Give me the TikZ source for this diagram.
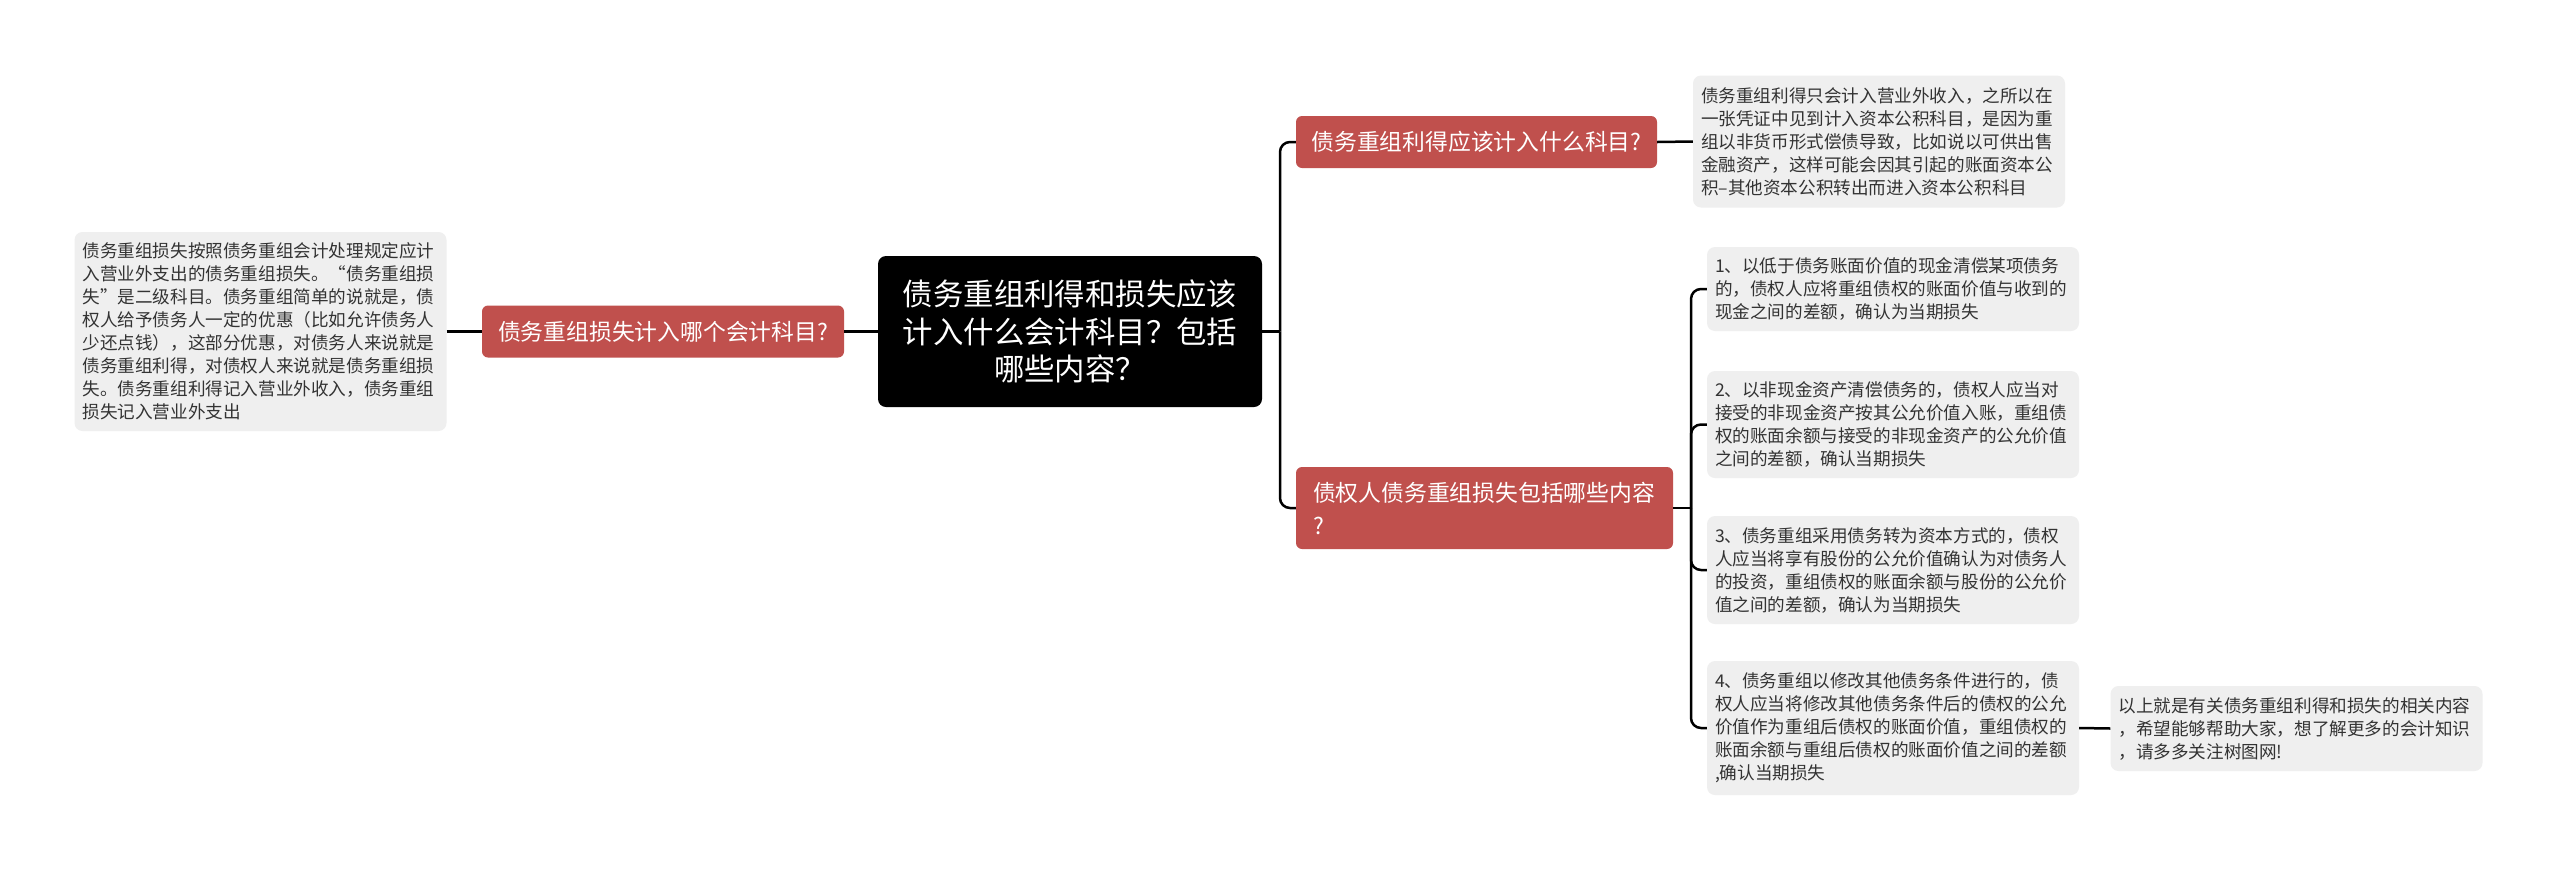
\documentclass[tikz,border=0pt]{standalone}
\usepackage{fontspec}
\setmainfont{Noto Sans CJK SC}
\definecolor{nodered}{RGB}{192,80,77}
\definecolor{notegray}{RGB}{239,239,239}
\definecolor{textgray}{RGB}{51,51,51}
\begin{document}
\begin{tikzpicture}[x=1pt,y=-1pt,
  conn/.style={line width=2.5pt, draw=black, rounded corners=10pt},
  mainbox/.style={fill=black, text=white, rounded corners=8pt, minimum width=384pt, minimum height=151pt, inner sep=0pt, font=\fontsize{30.4}{37.5}\selectfont, align=center},
  redbox/.style={fill=nodered, rounded corners=6pt, text=white, font=\fontsize{22.8}{33}\selectfont, inner xsep=14pt, inner ysep=0pt, minimum height=52pt, align=left},
  notebox/.style={fill=notegray, rounded corners=8pt, text=textgray, font=\fontsize{17.6}{23}\selectfont, text width=356pt, inner xsep=8pt, inner ysep=0pt, align=left}
]
\fill[white] (0,0) rectangle (2560,871);
\useasboundingbox (0,0) rectangle (2560,871);

\node[mainbox] (c) at (1070,331.5) {债务重组利得和损失应该\\计入什么会计科目？包括\\哪些内容？};

\node[redbox, minimum width=362pt] (l1) at (663,331.5) {债务重组损失计入哪个会计科目?};
\node[notebox, minimum height=199pt] (l2) at (260.5,331.5) {债务重组损失按照债务重组会计处理规定应计\\入营业外支出的债务重组损失。“债务重组损\\失”是二级科目。债务重组简单的说就是，债\\权人给予债务人一定的优惠（比如允许债务人\\少还点钱），这部分优惠，对债务人来说就是\\债务重组利得，对债权人来说就是债务重组损\\失。债务重组利得记入营业外收入，债务重组\\损失记入营业外支出};

\node[redbox, minimum width=361pt] (r1) at (1476.5,142) {债务重组利得应该计入什么科目?};
\node[notebox, minimum height=132pt] (r1n) at (1879,141.5) {债务重组利得只会计入营业外收入，之所以在\\一张凭证中见到计入资本公积科目，是因为重\\组以非货币形式偿债导致，比如说以可供出售\\金融资产，这样可能会因其引起的账面资本公\\积–其他资本公积转出而进入资本公积科目};

\node[redbox, text width=343pt, inner xsep=17pt, minimum height=82pt] (r2) at (1484.5,508) {债权人债务重组损失包括哪些内容\\?};

\node[notebox, minimum height=84pt] (i1) at (1893,289) {1、以低于债务账面价值的现金清偿某项债务\\的，债权人应将重组债权的账面价值与收到的\\现金之间的差额，确认为当期损失};
\node[notebox, minimum height=107pt] (i2) at (1893,424.5) {2、以非现金资产清偿债务的，债权人应当对\\接受的非现金资产按其公允价值入账，重组债\\权的账面余额与接受的非现金资产的公允价值\\之间的差额，确认当期损失};
\node[notebox, minimum height=108pt] (i3) at (1893,570) {3、债务重组采用债务转为资本方式的，债权\\人应当将享有股份的公允价值确认为对债务人\\的投资，重组债权的账面余额与股份的公允价\\值之间的差额，确认为当期损失};
\node[notebox, minimum height=134pt] (i4) at (1893,728) {4、债务重组以修改其他债务条件进行的，债\\权人应当将修改其他债务条件后的债权的公允\\价值作为重组后债权的账面价值，重组债权的\\账面余额与重组后债权的账面价值之间的差额\\,确认当期损失};
\node[notebox, minimum height=85pt] (n5) at (2296.5,728.5) {以上就是有关债务重组利得和损失的相关内容\\，希望能够帮助大家，想了解更多的会计知识\\，请多多关注树图网!};

\draw[conn] (l2.east) -- (l1.west);
\draw[conn] (l1.east) -- (c.west);
\coordinate (j1) at (1280,331.5);
\draw[conn] (c.east) -- (j1);
\draw[conn] (j1) |- (r1.west);
\draw[conn] (j1) |- (r2.west);
\draw[conn] (r1.east) -- (r1n.west);
\coordinate (j2) at (1691,508);
\draw[conn] (r2.east) -- (j2);
\draw[conn] (j2) |- (i1.west);
\draw[conn] (j2) |- (i2.west);
\draw[conn] (j2) |- (i3.west);
\draw[conn] (j2) |- (i4.west);
\draw[conn] (i4.east) -- (n5.west);
\end{tikzpicture}
\end{document}
